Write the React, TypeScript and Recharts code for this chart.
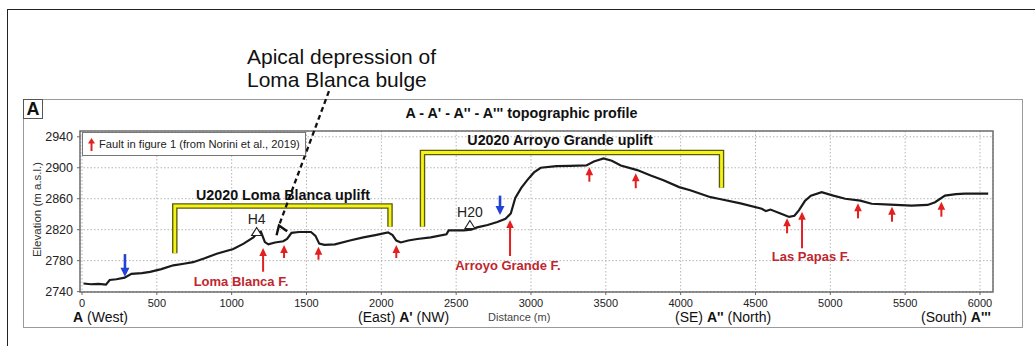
import React from 'react';
import {
  ComposedChart,
  Line,
  Scatter,
  XAxis,
  YAxis,
  CartesianGrid,
  ReferenceLine,
  ReferenceDot,
  ReferenceArea,
  Legend,
} from 'recharts';

// topographic profile, distance (m) vs elevation (m a.s.l.)
const profileDist = [
  10, 60, 110, 160, 185, 230, 285, 330, 400, 455, 530, 610, 680, 742, 820, 900, 1011, 1080, 1145,
  1175, 1195, 1222, 1245, 1290, 1345, 1370, 1400, 1450, 1530, 1560, 1585, 1620, 1690, 1790, 1880,
  1960, 2045, 2075, 2100, 2130, 2180, 2240, 2330, 2435, 2450, 2550, 2600, 2640, 2710, 2775, 2830,
  2865, 2895, 2935, 2975, 3020, 3065, 3170, 3260, 3370, 3420, 3485, 3540, 3600, 3710, 3800, 3885,
  3990, 4064, 4200, 4253, 4400, 4542, 4570, 4600, 4680, 4725, 4760, 4790, 4830, 4870, 4942, 5020,
  5100, 5200, 5276, 5400, 5543, 5650, 5700, 5766, 5840, 5900, 6055,
];
const profileElev = [
  2750.5, 2749.5, 2750, 2749, 2755, 2756, 2758, 2763, 2764, 2765.5, 2769, 2774, 2776, 2778, 2783,
  2789, 2795, 2802, 2810, 2816.5, 2817.5, 2804, 2801, 2803.5, 2805, 2808, 2816, 2817, 2817, 2812,
  2802, 2800.5, 2801, 2806, 2810, 2813, 2816.5, 2813, 2806, 2803.5, 2806, 2808, 2810, 2814, 2819,
  2819, 2820, 2823, 2826, 2830, 2834, 2841, 2861, 2874, 2884, 2894, 2900, 2902, 2902.5, 2903, 2908,
  2912, 2909, 2903, 2897, 2890, 2884, 2875, 2871, 2862, 2860, 2854, 2847, 2844, 2846, 2840, 2836.5,
  2838, 2845, 2857, 2864, 2868.5, 2864, 2860, 2857.5, 2853.5, 2852.5, 2851, 2852, 2855.5, 2864,
  2866, 2866.5, 2866.5,
];

const xTicks = [0, 500, 1000, 1500, 2000, 2500, 3000, 3500, 4000, 4500, 5000, 5500, 6000];
const yTicks = [2740, 2780, 2820, 2860, 2900, 2940];

// faults (red arrows): position, arrow tip and tail elevation
const faultDist = [1210, 1350, 1580, 2100, 2860, 3390, 3700, 4711, 4811, 5185, 5412, 5742];
const faultTip = [2796.3, 2800.2, 2798, 2800.2, 2832.5, 2900.6, 2892.9, 2834.7, 2843.2, 2854.1, 2849.7, 2856.2];
const faultTail = [2765.7, 2783.4, 2781.2, 2783.4, 2786, 2882, 2873.5, 2815.3, 2796, 2834.7, 2830.3, 2836.8];

const faultNames = ['Loma Blanca F.', 'Arroyo Grande F.', 'Las Papas F.'];
const faultNameDist = [1062, 2846, 4870];
const faultNameElev = [2753.7, 2774.4, 2785.1];

// blue arrows
const blueDist = [287, 2793];
const blueTail = [2788.5, 2864];
const blueTip = [2759.3, 2839];

// uplift brackets
const upliftNames = ['U2020 Loma Blanca uplift', 'U2020 Arroyo Grande uplift'];
const upliftLeft = [620, 2275];
const upliftRight = [2058, 4273];
const upliftTop = [2850.6, 2919.7];
const upliftLeftBase = [2789.5, 2823.9];
const upliftRightBase = [2823.9, 2874.3];
const upliftLabelDist = [1343, 3194];
const upliftLabelElev = [2864.3, 2935.9];

// summits
const peakNames = ['H4', 'H20'];
const peakDist = [1167, 2592];
const peakElev = [2817, 2826];

// apical depression pointer
const apicalStart = { d: 1650, e: 2999 };
const apicalTip = { d: 1316, e: 2825.4 };

const RED = '#e3201f';
const RED_TEXT = '#c0262d';
const BLUE = '#2342d6';
const FONT = '"Liberation Sans", Arial, sans-serif';

const profile = profileDist.map((d, i) => ({ d, e: profileElev[i] }));
const faultHeads = faultDist.map((d, i) => ({ d, e: faultTip[i] }));
const blueHeads = blueDist.map((d, i) => ({ d, e: blueTip[i] }));
const brackets = upliftNames.map((_, i) => [
  { d: upliftLeft[i], e: upliftLeftBase[i] },
  { d: upliftLeft[i], e: upliftTop[i] },
  { d: upliftRight[i], e: upliftTop[i] },
  { d: upliftRight[i], e: upliftRightBase[i] },
]);

const UpHead = (p: any) => {
  const { cx, cy } = p;
  return <polygon points={`${cx},${cy} ${cx - 3.8},${cy + 8} ${cx + 3.8},${cy + 8}`} fill={RED} />;
};

const DownHead = (p: any) => {
  const { cx, cy } = p;
  return <polygon points={`${cx},${cy} ${cx - 4.5},${cy - 9} ${cx + 4.5},${cy - 9}`} fill={BLUE} />;
};

const Summit = (p: any) => {
  const { cx, cy, name } = p;
  return (
    <g>
      <polygon
        points={`${cx},${cy - 4.5} ${cx - 5},${cy + 3.5} ${cx + 5},${cy + 3.5}`}
        fill="#fff"
        stroke="#222"
        strokeWidth={1.2}
      />
      <text x={cx} y={cy - 13} textAnchor="middle" dominantBaseline="central" fontSize={14} fill="#222">
        {name}
      </text>
    </g>
  );
};

const OpenHead = (p: any) => {
  const { cx, cy } = p;
  // back direction along the pointer shaft
  const ang = Math.atan2(-134, 50);
  const arm = 10;
  const a1 = ang + 0.6;
  const a2 = ang - 0.6;
  return (
    <polyline
      points={`${cx + arm * Math.cos(a1)},${cy - arm * Math.sin(a1)} ${cx},${cy} ${cx + arm * Math.cos(a2)},${cy - arm * Math.sin(a2)}`}
      fill="none"
      stroke="#111"
      strokeWidth={2.4}
    />
  );
};

const FaultLegend = () => (
  <div
    style={{
      border: '1.5px solid #777',
      background: '#fff',
      width: 224,
      height: 24,
      boxSizing: 'border-box',
      display: 'flex',
      alignItems: 'center',
      fontSize: 11.2,
      color: '#222',
      fontFamily: FONT,
      paddingLeft: 4,
      whiteSpace: 'nowrap',
      overflow: 'hidden',
    }}
  >
    <svg width={9} height={13} style={{ marginRight: 3, flexShrink: 0 }}>
      <polygon points="4.5,0 1,5.5 8,5.5" fill={RED} />
      <line x1={4.5} y1={4} x2={4.5} y2={13} stroke={RED} strokeWidth={2} />
    </svg>
    <span>Fault in figure 1 (from Norini et al., 2019)</span>
  </div>
);

const abs = (left: number, top: number, extra: React.CSSProperties = {}): React.CSSProperties => ({
  position: 'absolute',
  left,
  top,
  whiteSpace: 'nowrap',
  lineHeight: 1,
  ...extra,
});

export default function App() {
  return (
    <div
      style={{
        position: 'absolute',
        left: 0,
        top: 0,
        width: 1035,
        height: 346,
        overflow: 'hidden',
        background: '#fff',
        fontFamily: FONT,
        color: '#111',
      }}
    >
      {/* outer figure frame */}
      <div style={{ position: 'absolute', left: 7, top: 9, width: 1100, height: 400, borderLeft: '1.5px solid #222', borderTop: '1.5px solid #222' }} />
      {/* panel frame */}
      <div style={{ position: 'absolute', left: 23, top: 99, width: 1000, height: 229, border: '1.5px solid #9a9a9a', boxSizing: 'border-box' }} />
      <div
        style={{
          position: 'absolute',
          left: 23,
          top: 99,
          width: 20,
          height: 20,
          border: '1.5px solid #555',
          boxSizing: 'border-box',
          fontWeight: 'bold',
          fontSize: 18,
          lineHeight: '18px',
          textAlign: 'center',
        }}
      >
        A
      </div>

      <div style={{ position: 'absolute', left: 0, top: 0 }}>
        <ComposedChart
          width={1035}
          height={346}
          data={profile}
          margin={{ top: 131, right: 42, bottom: 34, left: 20 }}
        >
          <CartesianGrid stroke="#b5b5b5" strokeDasharray="1.5 2" />
          <XAxis
            type="number"
            dataKey="d"
            domain={[-13.4, 6087]}
            ticks={xTicks}
            interval={0}
            height={20}
            axisLine={false}
            tickSize={3}
            tickMargin={4}
            tickLine={{ stroke: '#666' }}
            tick={{ fill: '#222', fontSize: 11 }}
          />
          <YAxis
            type="number"
            domain={[2739.5, 2947.5]}
            ticks={yTicks}
            interval={0}
            width={60}
            axisLine={false}
            tickSize={3}
            tickMargin={4}
            tickLine={{ stroke: '#666' }}
            tick={{ fill: '#222', fontSize: 12.5 }}
            label={{
              content: (p: any) => {
                const vb = p.viewBox || { x: 20, y: 131, height: 161 };
                const x = vb.x + 17;
                const y = vb.y + vb.height / 2 - 2;
                return (
                  <text
                    x={x}
                    y={y}
                    transform={`rotate(-90 ${x} ${y})`}
                    textAnchor="middle"
                    dominantBaseline="central"
                    fontSize={11.5}
                    fill="#333"
                  >
                    Elevation (m a.s.l.)
                  </text>
                );
              },
            }}
          />
          <ReferenceArea
            x1={-13.4}
            x2={6087}
            y1={2739.5}
            y2={2947.5}
            fill="none"
            fillOpacity={0}
            stroke="#6f6f6f"
            strokeWidth={1.5}
          />

          {brackets.map((b, i) => (
            <Line
              key={`bo${i}`}
              data={b}
              dataKey="e"
              type="linear"
              stroke="#5a5a08"
              strokeWidth={5.5}
              strokeLinejoin="miter"
              dot={false}
              activeDot={false}
              legendType="none"
              isAnimationActive={false}
            />
          ))}
          {brackets.map((b, i) => (
            <Line
              key={`bi${i}`}
              data={b}
              dataKey="e"
              type="linear"
              stroke="#f4f41c"
              strokeWidth={2.8}
              strokeLinejoin="miter"
              dot={false}
              activeDot={false}
              legendType="none"
              isAnimationActive={false}
            />
          ))}
          {upliftNames.map((n, i) => (
            <ReferenceDot
              key={n}
              x={upliftLabelDist[i]}
              y={upliftLabelElev[i]}
              r={0}
              fill="none"
              stroke="none"
              label={{ value: n, position: 'center', fill: '#111', fontSize: 14.3, fontWeight: 'bold' }}
            />
          ))}

          <Line
            dataKey="e"
            type="linear"
            stroke="#1a1a1a"
            strokeWidth={2.2}
            dot={false}
            activeDot={false}
            legendType="none"
            isAnimationActive={false}
          />

          {faultDist.map((d, i) => (
            <ReferenceLine
              key={`f${i}`}
              segment={[
                { x: d, y: faultTip[i] - 4 },
                { x: d, y: faultTail[i] },
              ]}
              stroke={RED}
              strokeWidth={2}
            />
          ))}
          <Scatter data={faultHeads} dataKey="e" shape={UpHead} legendType="none" isAnimationActive={false} />

          {blueDist.map((d, i) => (
            <ReferenceLine
              key={`b${i}`}
              segment={[
                { x: d, y: blueTail[i] },
                { x: d, y: blueTip[i] + 4 },
              ]}
              stroke={BLUE}
              strokeWidth={2.6}
            />
          ))}
          <Scatter data={blueHeads} dataKey="e" shape={DownHead} legendType="none" isAnimationActive={false} />

          {faultNames.map((n, i) => (
            <ReferenceDot
              key={n}
              x={faultNameDist[i]}
              y={faultNameElev[i]}
              r={0}
              fill="none"
              stroke="none"
              label={{ value: n, position: 'center', fill: RED_TEXT, fontSize: 13, fontWeight: 'bold' }}
            />
          ))}

          {peakNames.map((n, i) => (
            <ReferenceDot
              key={n}
              x={peakDist[i]}
              y={peakElev[i]}
              r={5}
              shape={(p: any) => <Summit {...p} name={n} />}
            />
          ))}

          <ReferenceLine
            segment={[
              { x: apicalStart.d, y: apicalStart.e },
              { x: apicalTip.d, y: apicalTip.e },
            ]}
            ifOverflow="visible"
            stroke="#111"
            strokeWidth={2.3}
            strokeDasharray="5 3.5"
          />
          <ReferenceDot x={apicalTip.d} y={apicalTip.e} r={5} ifOverflow="visible" shape={OpenHead} />

          <Legend
            layout="vertical"
            align="center"
            verticalAlign="middle"
            wrapperStyle={{ left: 82, top: 132, width: 'auto', height: 'auto' }}
            content={() => <FaultLegend />}
          />
        </ComposedChart>
      </div>

      {/* texts around the plot */}
      <div style={abs(247, 44.7, { fontSize: 21, lineHeight: '23px', color: '#111' })}>
        Apical depression of
        <br />
        Loma Blanca bulge
      </div>
      <div style={abs(521.5, 106, { fontSize: 14.3, fontWeight: 'bold', transform: 'translateX(-50%)' })}>
        A - A' - A'' - A''' topographic profile
      </div>
      <div style={abs(73, 310, { fontSize: 14 })}>
        <b>A</b> (West)
      </div>
      <div style={abs(358, 310, { fontSize: 14 })}>
        (East) <b>A'</b> (NW)
      </div>
      <div style={abs(488, 311.5, { fontSize: 11, color: '#444' })}>Distance (m)</div>
      <div style={abs(675, 310, { fontSize: 14 })}>
        (SE) <b>A''</b> (North)
      </div>
      <div style={abs(921, 310, { fontSize: 14 })}>
        (South) <b>A'''</b>
      </div>
    </div>
  );
}
